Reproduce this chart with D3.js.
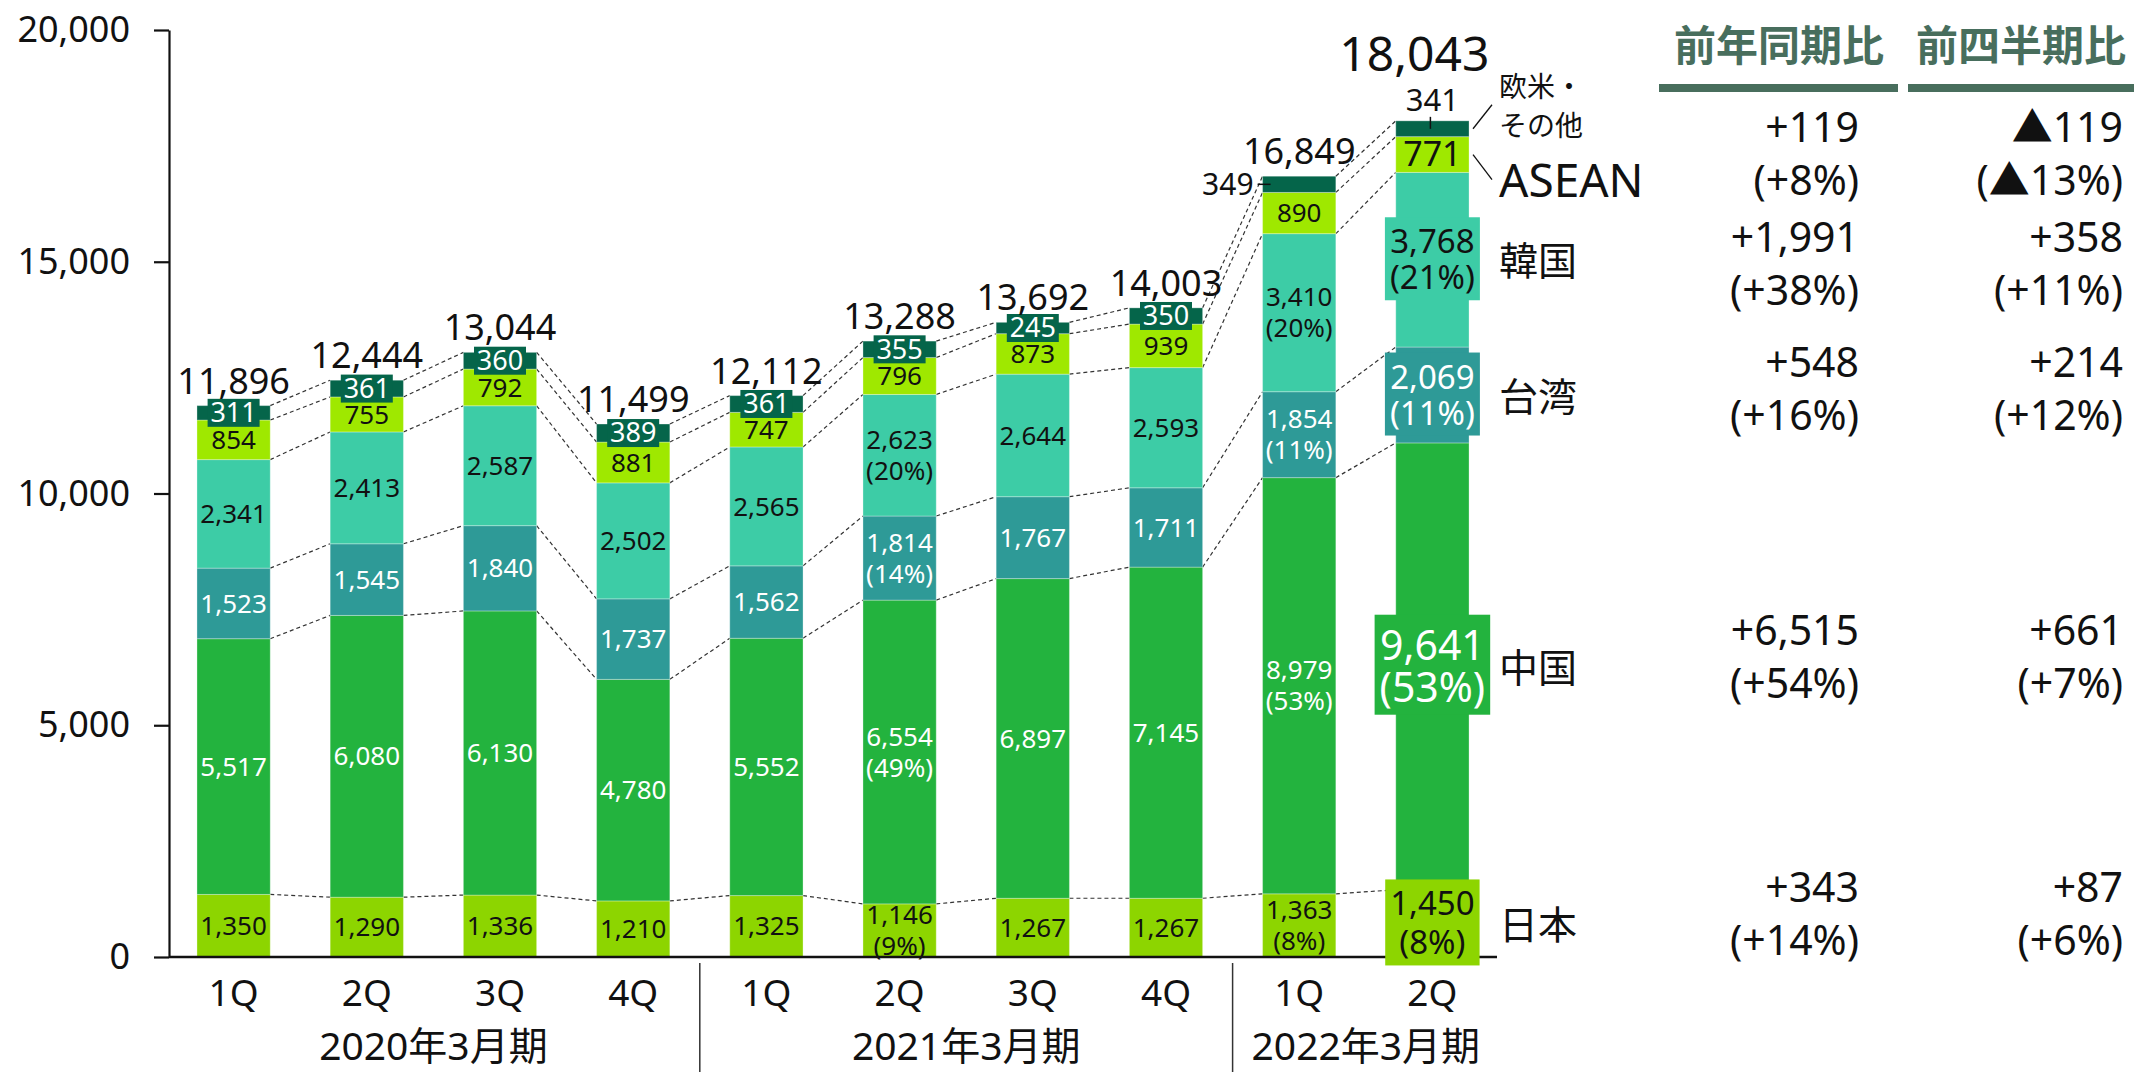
<!DOCTYPE html>
<html>
<head>
<meta charset="utf-8">
<script src="https://cdn.jsdelivr.net/npm/d3@7"></script>
<style>
body { margin: 0; background: #fff; }
text { font-family: "Noto Sans", "Noto Sans CJK JP", sans-serif; }
</style>
</head>
<body>
<div id="region-chart"></div>
<script>
var width = 2134,
    height = 1072;

// data
var quarters = ["1Q", "2Q", "3Q", "4Q", "1Q", "2Q", "3Q", "4Q", "1Q", "2Q"];
var fiscalYears = ["2020年3月期", "2020年3月期", "2020年3月期", "2020年3月期",
    "2021年3月期", "2021年3月期", "2021年3月期", "2021年3月期",
    "2022年3月期", "2022年3月期"];
var regions = ["日本", "中国", "台湾", "韓国", "ASEAN", "欧米・その他"];

var japan = [1350, 1290, 1336, 1210, 1325, 1146, 1267, 1267, 1363, 1450];
var china = [5517, 6080, 6130, 4780, 5552, 6554, 6897, 7145, 8979, 9641];
var taiwan = [1523, 1545, 1840, 1737, 1562, 1814, 1767, 1711, 1854, 2069];
var korea = [2341, 2413, 2587, 2502, 2565, 2623, 2644, 2593, 3410, 3768];
var asean = [854, 755, 792, 881, 747, 796, 873, 939, 890, 771];
var others = [311, 361, 360, 389, 361, 355, 245, 350, 349, 341];
var totals = [11896, 12444, 13044, 11499, 12112, 13288, 13692, 14003, 16849, 18043];

// shares shown under the value (null = not shown)
var japanShare = [null, null, null, null, null, 9, null, null, 8, 8];
var chinaShare = [null, null, null, null, null, 49, null, null, 53, 53];
var taiwanShare = [null, null, null, null, null, 14, null, null, 11, 11];
var koreaShare = [null, null, null, null, null, 20, null, null, 20, 21];

var yTicks = [0, 5000, 10000, 15000, 20000];

// comparison table
var yoyChange = ["+119", "+1,991", "+548", "+6,515", "+343"];
var yoyRate = ["(+8%)", "(+38%)", "(+16%)", "(+54%)", "(+14%)"];
var qoqChange = ["▲119", "+358", "+214", "+661", "+87"];
var qoqRate = ["(▲13%)", "(+11%)", "(+12%)", "(+7%)", "(+6%)"];
var tableHeaders = ["前年同期比", "前四半期比"];

var colors = {
    "日本": "#8dd500",
    "中国": "#23b33e",
    "台湾": "#2e9a97",
    "韓国": "#3dcca6",
    "ASEAN": "#9fe800",
    "欧米・その他": "#05654a"
};
var labelColors = {
    "日本": "#111",
    "中国": "#fff",
    "台湾": "#fff",
    "韓国": "#111",
    "ASEAN": "#111",
    "欧米・その他": "#fff"
};
var seriesValues = {
    "日本": japan, "中国": china, "台湾": taiwan, "韓国": korea,
    "ASEAN": asean, "欧米・その他": others
};
var seriesShares = {
    "日本": japanShare, "中国": chinaShare, "台湾": taiwanShare, "韓国": koreaShare
};

var headColor = "#486e5d";
var fmt = d3.format(",");

var svg = d3.select("#region-chart").append("svg")
    .attr("width", width)
    .attr("height", height);

var rows = quarters.map(function(q, i) {
    var r = {index: i, quarter: q, fy: fiscalYears[i], total: totals[i]};
    regions.forEach(function(k) { r[k] = seriesValues[k][i]; });
    return r;
});

var x = d3.scaleBand()
    .domain(d3.range(rows.length))
    .range([169, 1497])
    .paddingInner(0.45)
    .paddingOuter(0.21);

var y = d3.scaleLinear()
    .domain([0, 20000])
    .range([957, 30]);

var bw = x.bandwidth();
var last = rows.length - 1;

var stacked = d3.stack().keys(regions)(rows);

drawChart();

/** stacked bars, connectors, labels */
function drawChart() {

    // dashed connector lines between bars
    var connectors = svg.append("g").attr("class", "connectors");
    stacked.forEach(function(s) {
        for (var i = 0; i < s.length - 1; i++) {
            connectors.append("line")
                .attr("x1", x(i) + bw)
                .attr("y1", y(s[i][1]))
                .attr("x2", x(i + 1))
                .attr("y2", y(s[i + 1][1]))
                .attr("stroke", "#333")
                .attr("stroke-width", 1.2)
                .attr("stroke-dasharray", "4,3");
        }
    });

    // bars
    var layers = svg.append("g").selectAll(".layer")
        .data(stacked)
        .enter().append("g")
        .attr("class", "layer")
        .attr("fill", function(d) { return colors[d.key]; });

    layers.selectAll("rect")
        .data(function(d) { return d; })
        .enter().append("rect")
        .attr("x", function(d) { return x(d.data.index); })
        .attr("y", function(d) { return y(d[1]); })
        .attr("width", bw)
        .attr("height", function(d) { return y(d[0]) - y(d[1]); })
        .attr("stroke", "rgba(255,255,255,0.3)")
        .attr("stroke-width", 1);

    // y axis
    var yAxis = svg.append("g")
        .attr("transform", "translate(169,0)")
        .call(d3.axisLeft(y).tickValues(yTicks).tickFormat(fmt).tickSize(15).tickSizeOuter(0).tickPadding(24));
    yAxis.select(".domain").attr("stroke", "#111").attr("stroke-width", 2.2);
    yAxis.selectAll(".tick line").attr("stroke", "#111").attr("stroke-width", 2.2);
    yAxis.selectAll(".tick text")
        .attr("fill", "#111")
        .style("font-size", "36px");

    // baseline
    svg.append("line")
        .attr("x1", 169).attr("x2", 1497)
        .attr("y1", y(0)).attr("y2", y(0))
        .attr("stroke", "#111")
        .attr("stroke-width", 2.6);

    // quarter labels
    var xAxis = svg.append("g")
        .attr("transform", "translate(0," + y(0) + ")")
        .call(d3.axisBottom(x).tickFormat(function(i) { return quarters[i]; }).tickSize(0).tickPadding(23));
    xAxis.select(".domain").remove();
    xAxis.selectAll(".tick text")
        .attr("fill", "#111")
        .style("font-size", "37px");

    // fiscal year groups
    var groups = d3.groups(rows, function(d) { return d.fy; });
    groups.forEach(function(g, gi) {
        var first = g[1][0].index, lastIdx = g[1][g[1].length - 1].index;
        var cx = (x(first) + x(lastIdx) + bw) / 2;
        svg.append("text")
            .attr("x", cx)
            .attr("y", 1046)
            .attr("dy", "0.35em")
            .attr("text-anchor", "middle")
            .attr("fill", "#111")
            .style("font-size", "39px")
            .text(g[0]);
        if (gi < groups.length - 1) {
            var sx = (x(lastIdx) + bw + x(lastIdx + 1)) / 2;
            svg.append("line")
                .attr("x1", sx).attr("x2", sx)
                .attr("y1", 963).attr("y2", height)
                .attr("stroke", "#333")
                .attr("stroke-width", 1.5);
        }
    });

    // segment labels
    var labels = svg.append("g").attr("class", "segment-labels");
    stacked.forEach(function(s) {
        var key = s.key;
        s.forEach(function(d, i) {
            if (i === last) return;
            if (key === "欧米・その他" && i >= 8) return;
            var cx = x(i) + bw / 2,
                cy = (y(d[0]) + y(d[1])) / 2;
            var share = seriesShares[key] ? seriesShares[key][i] : null;
            if (key === "欧米・その他") {
                labels.append("rect")
                    .attr("x", cx - 26)
                    .attr("y", cy - 14)
                    .attr("width", 52)
                    .attr("height", 28)
                    .attr("fill", colors[key]);
            }
            var t = labels.append("text")
                .attr("x", cx)
                .attr("text-anchor", "middle")
                .attr("fill", labelColors[key])
                .style("font-size", key === "欧米・その他" ? "27px" : "26px");
            if (share != null) {
                t.append("tspan").attr("x", cx).attr("y", cy - 15.5).attr("dy", "0.35em").text(fmt(d.data[key]));
                t.append("tspan").attr("x", cx).attr("y", cy + 15.5).attr("dy", "0.35em").text("(" + share + "%)");
            } else {
                t.attr("y", cy).attr("dy", "0.35em").text(fmt(d.data[key]));
            }
        });
    });

    // last bar: highlighted labels
    var lastCx = x(last) + bw / 2;
    var bigSizes = {"日本": 33, "中国": 41, "台湾": 33, "韓国": 33};
    var bigGaps = {"日本": 39, "中国": 42, "台湾": 36, "韓国": 36};
    stacked.forEach(function(s) {
        var key = s.key, d = s[last];
        var cy = (y(d[0]) + y(d[1])) / 2;
        if (key === "ASEAN") {
            labels.append("text")
                .attr("x", lastCx).attr("y", cy).attr("dy", "0.35em")
                .attr("text-anchor", "middle")
                .attr("fill", "#111")
                .style("font-size", "34px")
                .text(fmt(d.data[key]));
            return;
        }
        if (key === "欧米・その他") return;
        var g = labels.append("g");
        var box = g.append("rect").attr("fill", colors[key]);
        var t = g.append("text")
            .attr("text-anchor", "middle")
            .attr("fill", labelColors[key])
            .style("font-size", bigSizes[key] + "px");
        t.append("tspan").attr("x", lastCx).attr("y", cy - bigGaps[key] / 2).attr("dy", "0.35em").text(fmt(d.data[key]));
        t.append("tspan").attr("x", lastCx).attr("y", cy + bigGaps[key] / 2).attr("dy", "0.35em").text("(" + seriesShares[key][last] + "%)");
        var bb = t.node().getBBox();
        box.attr("x", bb.x - 5).attr("y", bb.y - 1)
            .attr("width", bb.width + 10).attr("height", bb.height + 2);
    });

    // other labels outside for 2022 bars
    var o8 = stacked[5][8], o9 = stacked[5][last];
    var o8y = (y(o8[0]) + y(o8[1])) / 2;
    svg.append("text")
        .attr("x", x(8) - 9).attr("y", o8y).attr("dy", "0.35em")
        .attr("text-anchor", "end")
        .attr("fill", "#111")
        .style("font-size", "30px")
        .text(fmt(others[8]));
    svg.append("line")
        .attr("x1", x(8) - 5).attr("x2", x(8) + 8)
        .attr("y1", o8y).attr("y2", o8y)
        .attr("stroke", "#111").attr("stroke-width", 1.5);
    svg.append("text")
        .attr("x", lastCx).attr("y", y(o9[1]) - 21).attr("dy", "0.35em")
        .attr("text-anchor", "middle")
        .attr("fill", "#111")
        .style("font-size", "31px")
        .text(fmt(others[last]));
    svg.append("line")
        .attr("x1", lastCx - 2).attr("x2", lastCx - 2)
        .attr("y1", y(o9[1]) - 4).attr("y2", y(o9[1]) + 8)
        .attr("stroke", "#111").attr("stroke-width", 1.5);

    // totals
    rows.forEach(function(d, i) {
        var top = y(stacked[5][i][1]);
        svg.append("text")
            .attr("x", x(i) + bw / 2 - (i === last ? 18 : 0))
            .attr("y", i === last ? 71 : top - 12)
            .attr("text-anchor", "middle")
            .attr("fill", "#111")
            .style("font-size", i === last ? "48px" : "36px")
            .text(fmt(d.total));
    });

    // region names beside the last bar
    var nameX = 1499;
    stacked.forEach(function(s) {
        var key = s.key, d = s[last];
        var cy = (y(d[0]) + y(d[1])) / 2;
        if (key === "欧米・その他") {
            var t = svg.append("text").attr("fill", "#111").style("font-size", "28px");
            t.append("tspan").attr("x", nameX).attr("y", cy - 42).attr("dy", "0.35em").text("欧米・");
            t.append("tspan").attr("x", nameX).attr("y", cy - 3).attr("dy", "0.35em").text("その他");
            svg.append("line")
                .attr("x1", x(last) + bw + 4).attr("y1", cy)
                .attr("x2", 1492).attr("y2", cy - 24)
                .attr("stroke", "#111").attr("stroke-width", 1.3);
        } else if (key === "ASEAN") {
            svg.append("text")
                .attr("x", nameX).attr("y", cy + 26).attr("dy", "0.35em")
                .attr("fill", "#111")
                .style("font-size", "46px")
                .text(key);
            svg.append("line")
                .attr("x1", x(last) + bw + 4).attr("y1", cy)
                .attr("x2", 1492).attr("y2", cy + 25)
                .attr("stroke", "#111").attr("stroke-width", 1.3);
        } else {
            svg.append("text")
                .attr("x", nameX).attr("y", cy + 2).attr("dy", "0.35em")
                .attr("fill", "#111")
                .style("font-size", "39px")
                .text(key);
        }
    });

    drawTable();
}

/** comparison table on the right */
function drawTable() {
    var colCenters = [1779, 2021],
        colRight = [1859, 2123],
        lineX = [[1659, 1898], [1908, 2134]],
        rowCenters = [155, 265, 390, 658, 915];

    tableHeaders.forEach(function(h, i) {
        svg.append("text")
            .attr("x", colCenters[i]).attr("y", 46).attr("dy", "0.35em")
            .attr("text-anchor", "middle")
            .attr("fill", headColor)
            .style("font-family", "'Noto Sans CJK JP', sans-serif")
            .style("font-weight", "700")
            .style("font-size", "42px")
            .text(h);
        svg.append("rect")
            .attr("x", lineX[i][0]).attr("y", 84)
            .attr("width", lineX[i][1] - lineX[i][0]).attr("height", 8)
            .attr("fill", headColor);
    });

    rowCenters.forEach(function(cy, r) {
        [[yoyChange, yoyRate], [qoqChange, qoqRate]].forEach(function(col, c) {
            svg.append("text")
                .attr("x", colRight[c]).attr("y", cy - 27).attr("dy", "0.35em")
                .attr("text-anchor", "end")
                .attr("fill", "#111")
                .style("font-size", "41px")
                .text(col[0][r]);
            svg.append("text")
                .attr("x", colRight[c]).attr("y", cy + 26).attr("dy", "0.35em")
                .attr("text-anchor", "end")
                .attr("fill", "#111")
                .style("font-size", "41px")
                .text(col[1][r]);
        });
    });
}
</script>
</body>
</html>
